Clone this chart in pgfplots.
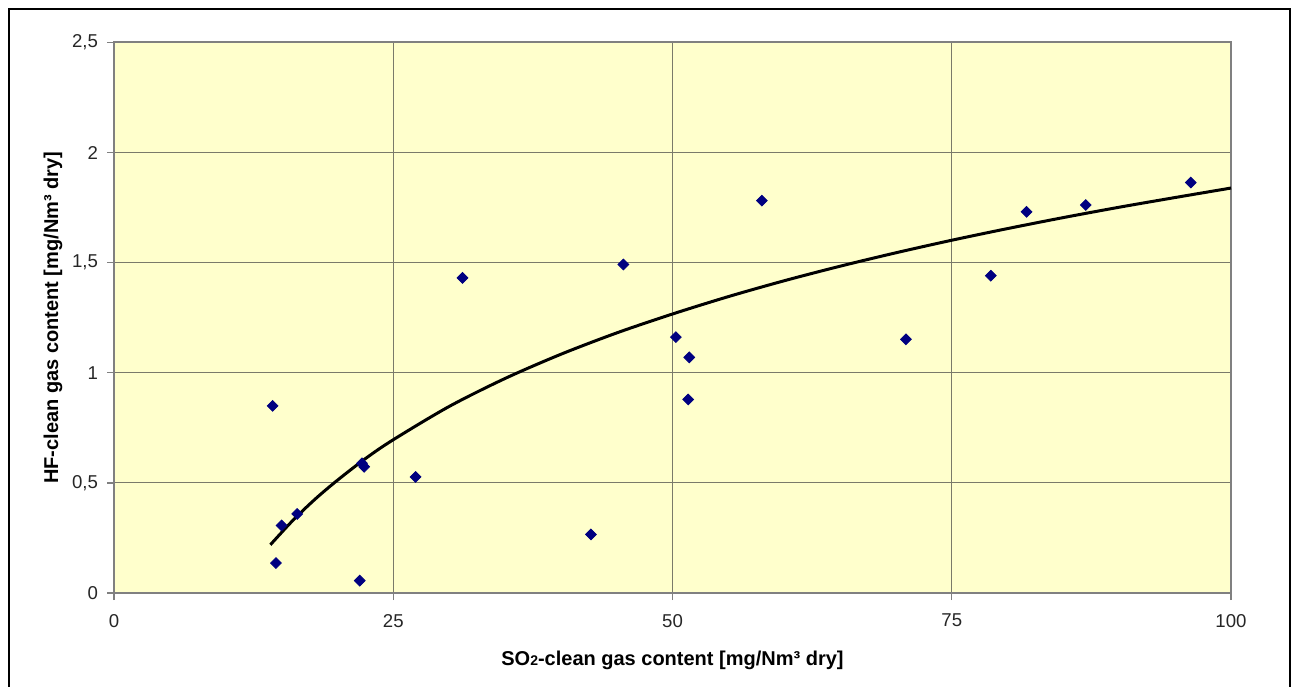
\documentclass[border=0pt]{standalone}
\usepackage{pgfplots}
\pgfplotsset{compat=1.18}
\usepackage{fontspec}
\setmainfont{Liberation Sans}
\definecolor{bgyellow}{HTML}{FFFFCC}
\definecolor{gridc}{HTML}{7A7A6A}
\definecolor{axc}{HTML}{808080}
\definecolor{navy}{HTML}{000080}
\begin{document}
\begin{tikzpicture}
\path[use as bounding box] (0pt,0pt) rectangle (647.5pt,343pt);
\draw[line width=1pt,black] (4.5pt,-2pt) -- (4.5pt,338.5pt) -- (645pt,338.5pt) -- (645pt,-2pt);
\begin{axis}[
  at={(57pt,46.5pt)}, anchor=south west,
  scale only axis, width=558.5pt, height=275.25pt,
  xmin=0, xmax=100, ymin=0, ymax=2.5,
  xtick={0,25,50,75,100},
  ytick={0,0.5,1,1.5,2,2.5},
  yticklabels={0,{0,5},1,{1,5},2,{2,5}},
  axis background/.style={fill=bgyellow},
  grid=major,
  major grid style={gridc, line width=0.5pt},
  axis line style={axc, line width=1pt},
  tick style={axc, line width=0.6pt},
  tick align=outside, major tick length=3.5pt,
  xtick pos=bottom, ytick pos=left,
  /pgf/number format/assume math mode=true,
  ticklabel style={font=\fontsize{9.3}{11}\selectfont, text=black!85},
  xticklabel style={yshift=-3.5pt},
  yticklabel style={xshift=-1pt},
  xlabel={\textbf{SO{\fontsize{7}{8}\selectfont 2}-clean gas content [mg/Nm³ dry]}},
  ylabel={\textbf{HF-clean gas content [mg/Nm³ dry]}},
  label style={font=\fontsize{10}{12}\selectfont},
  xlabel style={at={(axis description cs:0.5,0)}, anchor=center, yshift=-33.5pt},
  ylabel style={at={(axis description cs:0,0.5)}, anchor=center, yshift=30.5pt},
  clip=false,
]
\addplot[only marks, mark=square*, mark size=1.9pt, mark options={rotate=45, fill=navy, draw=navy}]
coordinates {
(14.2,0.850) (14.5,0.136) (15.0,0.307) (16.4,0.359) (22.2,0.589)
(22.4,0.573) (22.0,0.056) (27.0,0.527) (31.2,1.431) (42.7,0.266)
(45.6,1.492) (50.3,1.162) (51.5,1.070) (51.4,0.879) (58.0,1.782)
(70.9,1.152) (78.5,1.441) (81.7,1.731) (87.0,1.762) (96.4,1.864)
};
\addplot[black, line width=1.5pt, smooth]
coordinates {
(14,0.219) (16,0.329) (18,0.426) (20,0.512) (22.5,0.610) (25,0.696)
(30,0.847) (35,0.974) (40,1.084) (45,1.181) (50,1.267) (55,1.346)
(60,1.418) (65,1.484) (70,1.545) (75,1.602) (80,1.655) (85,1.705)
(90,1.752) (95,1.796) (100,1.839)
};
\end{axis}
\end{tikzpicture}
\end{document}
